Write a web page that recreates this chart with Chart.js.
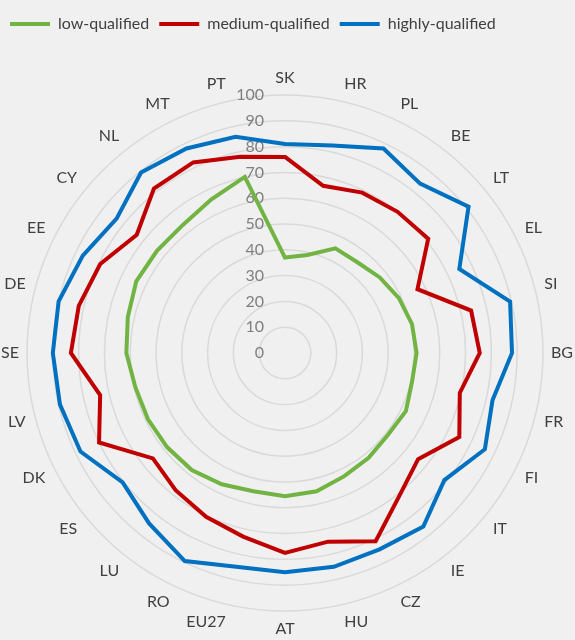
<!DOCTYPE html>
<html>
<head>
<meta charset="utf-8">
<script src="https://cdn.jsdelivr.net/npm/chart.js@4.4.1/dist/chart.umd.min.js"></script>
<style>
  body { margin: 0; background: #f0f0f0; }
  #wrap { width: 575px; height: 640px; position: relative; }
</style>
</head>
<body>
<div id="wrap"><canvas id="chart"></canvas></div>
<script>
// countries, clockwise from the top
var countries = ['SK', 'HR', 'PL', 'BE', 'LT', 'EL', 'SI', 'BG', 'FR', 'FI', 'IT', 'IE', 'CZ', 'HU',
                 'AT', 'EU27', 'RO', 'LU', 'ES', 'DK', 'LV', 'SE', 'DE', 'EE', 'CY', 'NL', 'MT', 'PT'];

var lowQualified = [37, 39, 45, 45, 47, 49, 50.5, 51, 50.5, 52, 51, 52, 53, 55,
                    55.5, 55, 56.5, 58, 58.5, 59, 59.5, 61.5, 62.5, 64, 63.5, 63.5, 66, 70];
var mediumQualified = [76, 66.5, 69, 70, 71, 57, 74, 75.5, 69.5, 75, 66, 71, 81, 75,
                       77.5, 73, 70.5, 68, 65.5, 80, 73.5, 83, 82, 79.5, 73.5, 81.5, 82, 78];
var highlyQualified = [81, 82.5, 88, 84, 91, 75, 89.5, 88, 82.5, 86, 79, 86, 84.5, 85,
                       85, 85, 89.5, 84.5, 80.5, 88, 89.5, 90, 90, 87, 83.5, 89.5, 88, 86];

var tickLabels = ['0', '10', '20', '30', '40', '50', '60', '70', '80', '90', '100'];

// tick labels sit left of the vertical axis, like in the original
var tickLabelPlugin = {
    id: 'tickLabels',
    beforeDatasetsDraw: function(chart) {
        var scale = chart.scales.r;
        var ctx = chart.ctx;
        ctx.save();
        ctx.font = '16px Lato';
        ctx.fillStyle = '#7f7f7f';
        ctx.textAlign = 'right';
        ctx.textBaseline = 'middle';
        tickLabels.forEach(function(t) {
            var d = scale.getDistanceFromCenterForValue(Number(t));
            ctx.fillText(t, scale.xCenter - 21, scale.yCenter - d);
        });
        ctx.restore();
    }
};

var ctx = document.getElementById('chart');
var chart = new Chart(ctx, {
    type: 'radar',
    data: {
        labels: countries,
        datasets: [
            {
                label: 'low-qualified',
                data: lowQualified,
                borderColor: '#72b443',
                backgroundColor: '#72b443',
                borderWidth: 4,
                fill: false
            },
            {
                label: 'medium-qualified',
                data: mediumQualified,
                borderColor: '#c00000',
                backgroundColor: '#c00000',
                borderWidth: 4,
                fill: false
            },
            {
                label: 'highly-qualified',
                data: highlyQualified,
                borderColor: '#0070c0',
                backgroundColor: '#0070c0',
                borderWidth: 4,
                fill: false
            }
        ]
    },
    options: {
        responsive: true,
        maintainAspectRatio: false,
        animation: false,
        layout: {
            padding: { top: 6, left: 0, right: 0, bottom: 0 }
        },
        elements: {
            point: { radius: 0, hoverRadius: 0 },
            line: { tension: 0 }
        },
        plugins: {
            legend: {
                position: 'top',
                align: 'start',
                labels: {
                    boxWidth: 40,
                    boxHeight: 4,
                    padding: 10,
                    color: '#404040',
                    font: { family: 'Lato', size: 16 },
                    generateLabels: function(chart) {
                        var items = Chart.defaults.plugins.legend.labels.generateLabels(chart);
                        return items.map(function(item) {
                            item.lineWidth = 0;
                            return item;
                        });
                    }
                }
            },
            // empty subtitle under the legend, only used as a gap
            subtitle: {
                display: true,
                text: '',
                weight: 500,
                font: { size: 10 },
                padding: { top: 0, bottom: 14 }
            },
            tooltip: { enabled: false }
        },
        scales: {
            r: {
                min: 0,
                max: 100,
                ticks: { stepSize: 10, display: false },
                grid: { circular: true, color: '#d9d9d9', lineWidth: 1.5 },
                angleLines: { display: false },
                pointLabels: {
                    padding: 8,
                    color: '#404040',
                    font: { family: 'Lato', size: 16 }
                }
            }
        }
    },
    plugins: [tickLabelPlugin]
});
</script>
</body>
</html>
